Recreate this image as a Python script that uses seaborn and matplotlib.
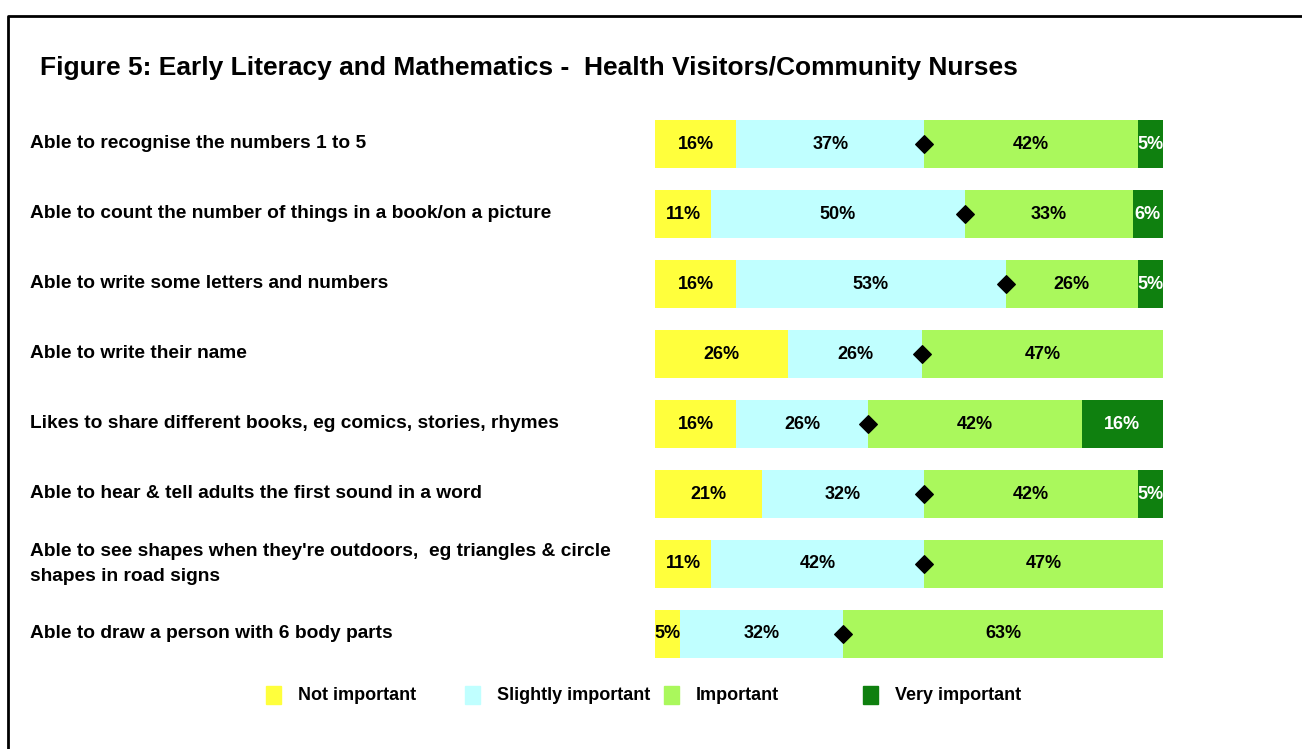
import numpy as np
import pandas as pd
import matplotlib
matplotlib.use('Agg')
import matplotlib.pyplot as plt
from matplotlib.patches import Rectangle
from matplotlib.lines import Line2D
import seaborn as sns

# --- data ---
ITEMS = [
    "Able to recognise the numbers 1 to 5",
    "Able to count the number of things in a book/on a picture",
    "Able to write some letters and numbers",
    "Able to write their name",
    "Likes to share different books, eg comics, stories, rhymes",
    "Able to hear & tell adults the first sound in a word",
    "Able to see shapes when they're outdoors,  eg triangles & circle\nshapes in road signs",
    "Able to draw a person with 6 body parts",
]
NOT_IMP = [16, 11, 16, 26, 16, 21, 11, 5]
SLIGHT_IMP = [37, 50, 53, 26, 26, 32, 42, 32]
IMP = [42, 33, 26, 47, 42, 42, 47, 63]
VERY_IMP = [5, 6, 5, 0, 16, 5, 0, 0]

LEVELS = ["Not important", "Slightly important", "Important", "Very important"]
COLORS = ["#FFFF3C", "#C0FFFF", "#AAF85C", "#0F800F"]
TEXT_COLORS = ["black", "black", "black", "white"]

TITLE = "Figure 5: Early Literacy and Mathematics -  Health Visitors/Community Nurses"

W, H = 1302, 749

sns.set_style("white")
plt.rcParams['font.family'] = ['Liberation Sans', 'DejaVu Sans']
plt.rcParams['font.weight'] = 'bold'
plt.rcParams['text.color'] = 'black'

vals = np.array([NOT_IMP, SLIGHT_IMP, IMP, VERY_IMP], dtype=float).T
shares = vals / vals.sum(axis=1, keepdims=True) * 100  # bars fill the full width
cum = np.cumsum(shares, axis=1)

df = pd.DataFrame(cum, columns=LEVELS)
df["item"] = ITEMS

fig = plt.figure(figsize=(W / 100, H / 100), dpi=100)
ax = fig.add_axes([655 / W, 1 - 669 / H, 508 / W, 560 / H])

# stacked bars: draw cumulative totals from the widest down
for i in range(3, -1, -1):
    sns.barplot(data=df, x=LEVELS[i], y="item", color=COLORS[i], orient="h",
                width=0.69, linewidth=0, saturation=1, ax=ax)

# percentage labels inside the segments
for r in range(len(ITEMS)):
    left = 0
    for i in range(4):
        if vals[r, i] > 0:
            ax.text(left + shares[r, i] / 2, r, f"{vals[r, i]:.0f}%", ha="center", va="center",
                    fontsize=13, fontweight="bold", color=TEXT_COLORS[i])
        left += shares[r, i]

# diamond marker at the not/slightly vs important split
ax.scatter(cum[:, 1], np.arange(len(ITEMS)), marker="D", s=80, color="black", zorder=5)

ax.set_xlim(0, 100)
ax.set_ylim(len(ITEMS) - 0.5, -0.5)
ax.set_xlabel("")
ax.set_ylabel("")
ax.set_xticks([])
ax.set_yticks([])
for s in ax.spines.values():
    s.set_visible(False)

# item labels on the left
for r, name in enumerate(ITEMS):
    yfig = 1 - (144 + 70 * r) / H
    fig.text(30 / W, yfig, name, ha="left", va="center", fontsize=13.8,
             fontweight="bold", linespacing=1.55)

fig.text(40 / W, 1 - 68 / H, TITLE, ha="left", va="center", fontsize=19, fontweight="bold")

# legend with equally spaced entries
for i, name in enumerate(LEVELS):
    x0 = 266 + 199 * i
    fig.patches.append(Rectangle((x0 / W, 1 - 704 / H), 15 / W, 18 / H,
                                 transform=fig.transFigure, color=COLORS[i]))
    fig.text((x0 + 32) / W, 1 - 695 / H, name, ha="left", va="center", fontsize=13,
             fontweight="bold")

# outer frame (runs off the right and bottom edges)
fig.lines.append(Line2D([8 / W, 8 / W, 1.0], [0.0, 1 - 16 / H, 1 - 16 / H],
                        transform=fig.transFigure, color="black", linewidth=2))

fig.savefig("out.png", dpi=100)
